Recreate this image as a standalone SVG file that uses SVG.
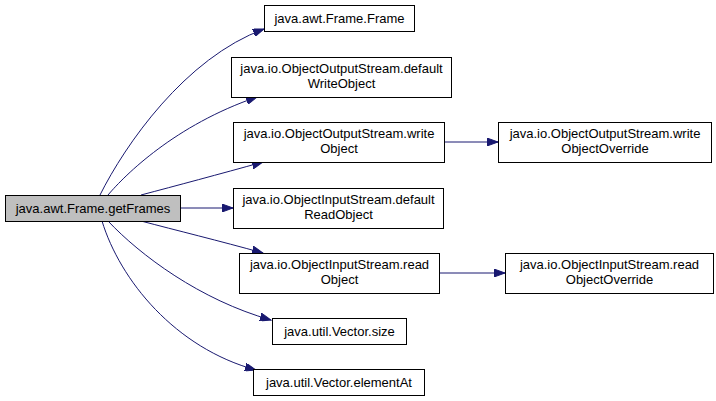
<svg xmlns="http://www.w3.org/2000/svg" width="716" height="401" viewBox="0 0 716 401">
<style>
.n rect{fill:#ffffff;stroke:#000000;stroke-width:1}
.n.root rect{fill:#bfbfbf}
.n text{font-family:"Liberation Sans",Arial,sans-serif;font-size:13px;fill:#000000;text-anchor:middle}
.e path{fill:none;stroke:#191970;stroke-width:1;marker-end:url(#ah)}
</style>
<defs>
<marker id="ah" markerUnits="userSpaceOnUse" markerWidth="12" markerHeight="8" refX="11" refY="4" orient="auto">
<path d="M0,0 L11,4 L0,8 z" fill="#191970" stroke="#191970" stroke-width="1"/>
</marker>
</defs>
<rect width="716" height="401" fill="#ffffff"/>
<g id="edges" class="e">
<path d="M100,195 C125,145 185,58 264,29"/>
<path d="M108,195 C125,175 175,125 257,97"/>
<path d="M141,195 C175,186 220,174 263,162"/>
<path d="M180,208 L233,208"/>
<path d="M141,221 C175,230 220,241 263,253"/>
<path d="M108,221 C140,255 200,300 271,320"/>
<path d="M102,221 C120,280 175,348 256,370"/>
<path d="M444,142 L498,142"/>
<path d="M439,273 L505,273"/>
</g>
<g id="node_getFrames" class="n root">
<rect x="5.5" y="195.5" width="175" height="26"/>
<text x="93" y="213">java.awt.Frame.getFrames</text>
</g>
<g id="node_Frame" class="n">
<rect x="264.5" y="5.5" width="150" height="26"/>
<text x="339.5" y="23">java.awt.Frame.Frame</text>
</g>
<g id="node_defaultWriteObject" class="n">
<rect x="231.5" y="57.5" width="220" height="40"/>
<text x="341.5" y="73">java.io.ObjectOutputStream.default</text>
<text x="341.5" y="88">WriteObject</text>
</g>
<g id="node_writeObject" class="n">
<rect x="233.5" y="122.5" width="211" height="40"/>
<text x="339" y="138">java.io.ObjectOutputStream.write</text>
<text x="339" y="153">Object</text>
</g>
<g id="node_defaultReadObject" class="n">
<rect x="233.5" y="188.5" width="210" height="40"/>
<text x="338.5" y="204">java.io.ObjectInputStream.default</text>
<text x="338.5" y="219">ReadObject</text>
</g>
<g id="node_readObject" class="n">
<rect x="239.5" y="253.5" width="200" height="40"/>
<text x="339.5" y="269">java.io.ObjectInputStream.read</text>
<text x="339.5" y="284">Object</text>
</g>
<g id="node_size" class="n">
<rect x="272.5" y="318.5" width="134" height="26"/>
<text x="339.5" y="336">java.util.Vector.size</text>
</g>
<g id="node_elementAt" class="n">
<rect x="253.5" y="369.5" width="171" height="26"/>
<text x="339" y="387">java.util.Vector.elementAt</text>
</g>
<g id="node_writeObjectOverride" class="n">
<rect x="498.5" y="122.5" width="213" height="40"/>
<text x="605" y="138">java.io.ObjectOutputStream.write</text>
<text x="605" y="153">ObjectOverride</text>
</g>
<g id="node_readObjectOverride" class="n">
<rect x="505.5" y="253.5" width="208" height="40"/>
<text x="609.5" y="269">java.io.ObjectInputStream.read</text>
<text x="609.5" y="284">ObjectOverride</text>
</g>
</svg>
